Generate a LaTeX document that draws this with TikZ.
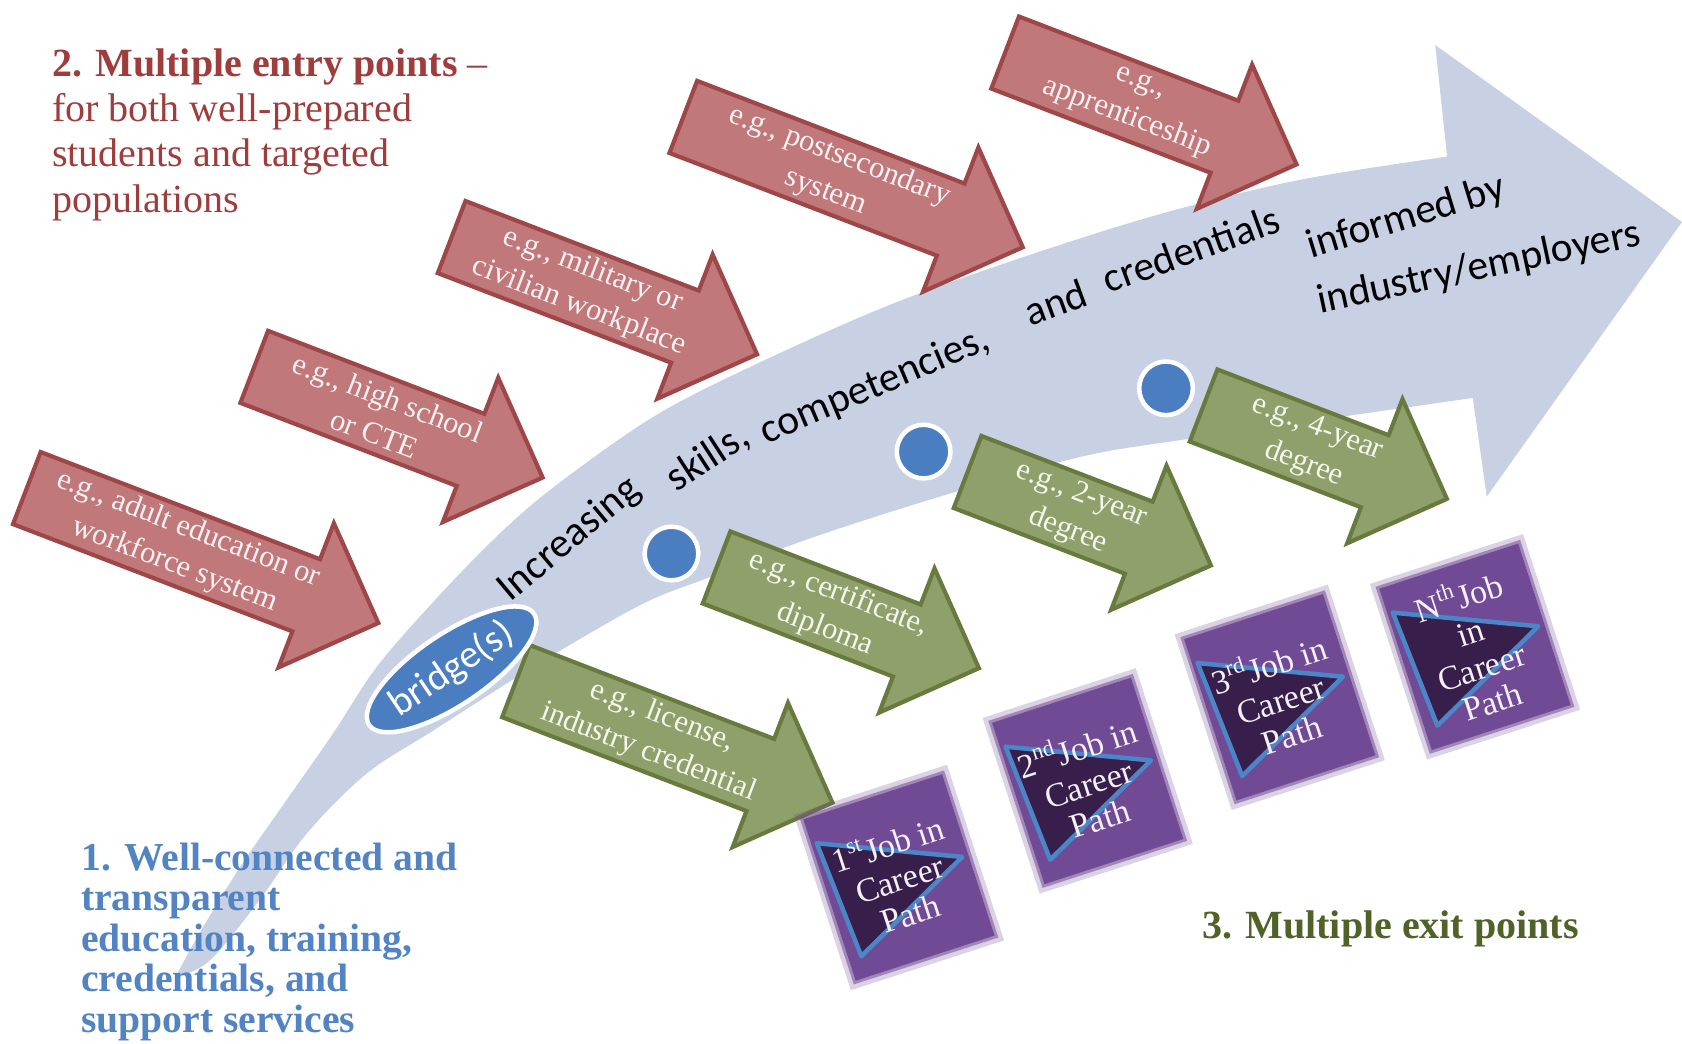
\documentclass[tikz,border=0pt]{standalone}
\usepackage{fontspec}
\setmainfont{Liberation Serif}
\newfontfamily\bandfont{Carlito}
\usetikzlibrary{shapes.geometric}

\definecolor{bandblue}{RGB}{200,208,228}
\definecolor{entryfill}{RGB}{192,120,122}
\definecolor{entryline}{RGB}{158,70,72}
\definecolor{exitfill}{RGB}{143,160,106}
\definecolor{exitline}{RGB}{104,122,62}
\definecolor{jobfill}{RGB}{112,74,148}
\definecolor{jobdark}{RGB}{55,30,75}
\definecolor{jobline}{RGB}{75,135,200}
\definecolor{dotblue}{RGB}{74,126,193}
\definecolor{titlered}{RGB}{158,61,59}
\definecolor{titleblue}{RGB}{82,132,196}
\definecolor{titlegreen}{RGB}{79,98,40}

\tikzset{
  entry arrow/.style={fill=entryfill, draw=entryline, line width=1.1pt},
  exit arrow/.style={fill=exitfill, draw=exitline, line width=1.1pt},
  entry text/.style={text=white!90!entryfill, align=center, inner sep=0pt,
    rotate=-21, font=\fontsize{8.1}{10.2}\selectfont},
  exit text/.style={text=white!90!exitfill, align=center, inner sep=0pt,
    rotate=-21, font=\fontsize{8.1}{10.2}\selectfont},
  band word/.style={inner sep=0pt, font=\bandfont\fontsize{11}{13}\selectfont},
  stop dot/.style={circle, fill=dotblue, draw=white, line width=1.2pt,
    minimum size=0.5cm, inner sep=0pt},
  job box/.style={rectangle, rotate=18, minimum width=1.36cm, minimum height=1.58cm,
    fill=jobfill, draw=jobfill, draw opacity=0.55, line width=1.6pt,
    preaction={draw=jobfill, draw opacity=0.25, line width=4pt}},
  job mark/.style={fill=jobdark, draw=jobline, line width=1.2pt, line join=round},
  job text/.style={text=white!92!jobfill, align=center, inner sep=0pt, rotate=18,
    font=\fontsize{9}{9.6}\selectfont},
  title/.style={align=left, inner sep=0pt},
}

% block arrow: name, kind, tail x, tail y, length, text
\newcommand{\blockarrow}[6]{%
  \begin{scope}[shift={(#3,#4)}, rotate=-21]
    \draw[#2 arrow] (0,-36) -- (#5-72,-36) -- (#5-72,-72) -- (#5,0)
      -- (#5-72,72) -- (#5-72,36) -- (0,36) -- cycle;
    \node[#2 text] (#1) at (0.44*#5,0) {#6};
  \end{scope}}

% job box: name, centre x, centre y, text
\newcommand{\jobbox}[4]{%
  \node[job box] (#1) at (#2,#3) {};
  \begin{scope}[shift={(#2,#3)}, rotate=18]
    \draw[job mark] (-63,-54) -- (62,0) -- (-56,59) -- cycle;
  \end{scope}
  \node[job text] (#1 text) at (#2,#3) {#4};}

\begin{document}
\begin{tikzpicture}[x=0.01cm, y=-0.01cm]
\useasboundingbox (0,0) rectangle (1568,973);

% the big curved arrow
\fill[bandblue] plot[smooth, tension=0.55] coordinates {(163,912) (186,870) (224,808)
    (267,746) (311,683) (351,622) (404,561) (460,503) (515,455) (610,388) (708,338)
    (830,284) (953,240) (1080,200) (1210,168) (1349,146)}
  -- (1338,42) -- (1568,207) -- (1386,463) -- (1373,371)
  -- plot[smooth, tension=0.55] coordinates {(1373,371) (1317,379) (1109,409) (1007,426)
    (876,463) (752,503) (659,539) (597,564) (500,620) (404,681) (342,721) (286,777)
    (242,839) (196,895) (163,912)}
  -- cycle;

\node[band word, rotate=40] (w1) at (531,503) {Increasing};
\node[band word, rotate=33] (w2) at (660,427) {skills,};
\node[band word, rotate=23] (w3) at (816,360) {competencies,};
\node[band word, rotate=20] (w4) at (984,282) {and};
\node[band word, rotate=20] (w5) at (1110,232) {credentials};
\node[band word, rotate=17] (w6) at (1311,203) {informed by};
\node[band word, rotate=12] (w7) at (1379,250) {industry/employers};

% entry points
\blockarrow{adult}{entry}{25}{455}{351}{e.g., adult education or\\workforce system}
\blockarrow{school}{entry}{237}{342}{288}{e.g., high school\\or CTE}
\blockarrow{military}{entry}{421}{221}{305}{e.g., military or\\civilian workplace}
\blockarrow{postsec}{entry}{637}{109}{339}{e.g., postsecondary\\system}
\blockarrow{appr}{entry}{937}{49}{291}{e.g.,\\apprenticeship}

% exit points
\blockarrow{license}{exit}{481}{635}{316}{e.g., license,\\industry credential}
\blockarrow{cert}{exit}{668}{529}{262}{e.g., certificate,\\diploma}
\blockarrow{twoyear}{exit}{902}{440}{243}{e.g., 2-year\\degree}
\blockarrow{fouryear}{exit}{1122}{378}{243}{e.g., 4-year\\degree}

\node[stop dot] (d1) at (626,516) {};
\node[stop dot] (d2) at (861,421) {};
\node[stop dot] (d3) at (1087,362) {};

\node[ellipse, rotate=34, fill=dotblue, draw=white, line width=1.2pt,
  minimum width=1.7cm, minimum height=0.66cm, inner sep=0pt, text=white,
  font=\bandfont\fontsize{10.4}{12}\selectfont] (bridge) at (421,624) {bridge(s)};

% jobs
\jobbox{job1}{838}{818}{1\textsuperscript{st}Job in\\Career\\Path}
\jobbox{job2}{1014}{728}{2\textsuperscript{nd}Job in\\Career\\Path}
\jobbox{job3}{1193}{650}{3\textsuperscript{rd}Job in\\Career\\Path}
\jobbox{job4}{1375}{603}{N\textsuperscript{th}Job\\in\\Career\\Path}

% headings
\node[title, anchor=north west, text=titlered, font=\fontsize{10.6}{11.95}\selectfont]
  (entrytitle) at (48,45) {\textbf{2. Multiple entry points} --\\for both well-prepared\\students and targeted\\populations};
\node[title, anchor=north west, text=titleblue, font=\bfseries\fontsize{10.5}{10.75}\selectfont]
  (pathtitle) at (75,785) {1. Well-connected and\\transparent\\education, training,\\credentials, and\\support services};
\node[title, anchor=base west, text=titlegreen, font=\bfseries\fontsize{10.6}{12}\selectfont]
  (exittitle) at (1120,875) {3. Multiple exit points};
\end{tikzpicture}
\end{document}
